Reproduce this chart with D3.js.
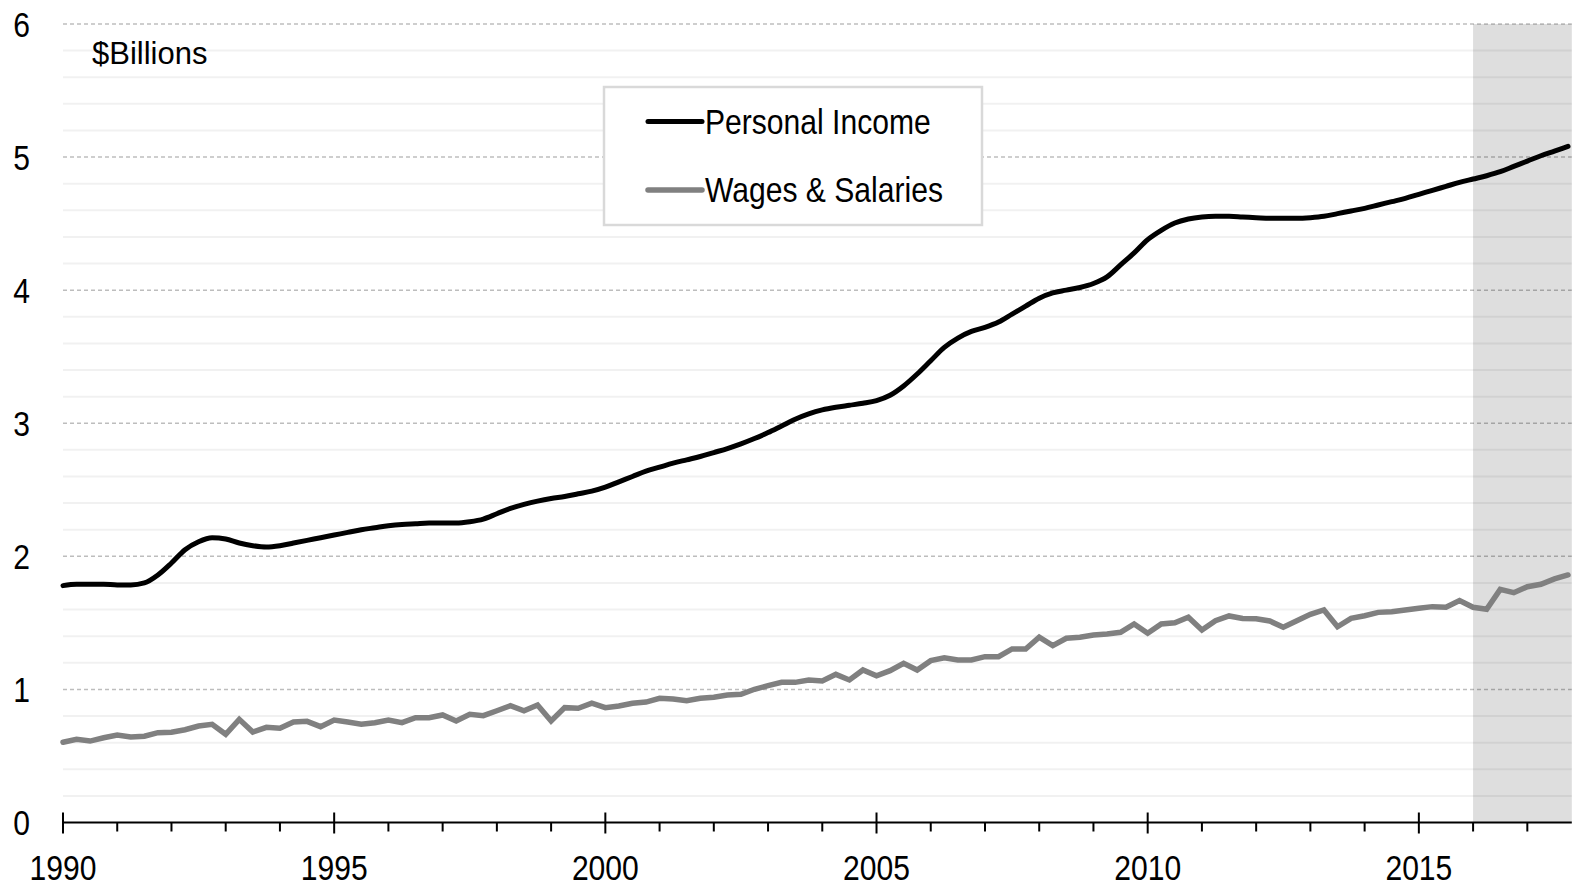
<!DOCTYPE html>
<html>
<head>
<meta charset="utf-8">
<script src="https://cdn.jsdelivr.net/npm/d3@7"></script>
<style>
  body { margin: 0; background: #fff; }
  svg { display: block; font-family: "Liberation Sans", Arial, sans-serif; }
</style>
</head>
<body>
<div id="viz"></div>
<script>
// quarterly values, 1990Q1 .. 2017Q4, $ billions
const personalIncome = [
  1.78, 1.79, 1.79, 1.79,  1.785, 1.785, 1.80, 1.86,
  1.95, 2.05, 2.11, 2.14,  2.13, 2.10, 2.08, 2.07,
  2.08, 2.10, 2.12, 2.14,  2.16, 2.18, 2.20, 2.215,
  2.23, 2.24, 2.245, 2.25,  2.25, 2.25, 2.26, 2.28,
  2.32, 2.36, 2.39, 2.415,  2.435, 2.45, 2.47, 2.49,
  2.52, 2.56, 2.60, 2.64,  2.67, 2.70, 2.725, 2.75,
  2.78, 2.81, 2.845, 2.885,  2.93, 2.98, 3.03, 3.07,
  3.10, 3.12, 3.135, 3.15,  3.17, 3.21, 3.28, 3.37,
  3.47, 3.57, 3.64, 3.69,  3.72, 3.76, 3.82, 3.88,
  3.94, 3.98, 4.00, 4.02,  4.05, 4.10, 4.19, 4.28,
  4.38, 4.45, 4.505, 4.535,  4.55, 4.555, 4.555, 4.55,
  4.545, 4.54, 4.54, 4.54,  4.545, 4.555, 4.575, 4.595,
  4.615, 4.64, 4.665, 4.69,  4.72, 4.75, 4.78, 4.81,
  4.835, 4.86, 4.89, 4.93,  4.97, 5.01, 5.045, 5.08
];
const wagesSalaries = [
  0.603, 0.625, 0.612, 0.637,  0.657, 0.642, 0.648, 0.675,
  0.678, 0.697, 0.725, 0.738,  0.663, 0.775, 0.680, 0.715,
  0.708, 0.755, 0.760, 0.720,  0.770, 0.755, 0.738, 0.750,
  0.770, 0.750, 0.788, 0.788,  0.808, 0.763, 0.813, 0.803,
  0.840, 0.878, 0.840, 0.883,  0.763, 0.863, 0.858, 0.896,
  0.863, 0.875, 0.896, 0.905,  0.933, 0.928, 0.915, 0.933,
  0.941, 0.958, 0.963, 1.001,  1.028, 1.053, 1.053, 1.071,
  1.063, 1.113, 1.071, 1.146,  1.103, 1.141, 1.196, 1.146,
  1.216, 1.237, 1.221, 1.221,  1.246, 1.246, 1.304, 1.304,
  1.392, 1.329, 1.384, 1.392,  1.409, 1.416, 1.429, 1.492,
  1.422, 1.492, 1.501, 1.542,  1.447, 1.516, 1.552, 1.533,
  1.531, 1.514, 1.467, 1.516,  1.564, 1.597, 1.471, 1.534,
  1.554, 1.579, 1.584, 1.597,  1.610, 1.622, 1.617, 1.667,
  1.617, 1.602, 1.752, 1.727,  1.772, 1.790, 1.830, 1.860
];
const startYear = 1990;
const xLabelYears = [1990, 1995, 2000, 2005, 2010, 2015];
const yTickValues = [0, 1, 2, 3, 4, 5, 6];
const forecastStart = 2016;
const seriesNames = ['Personal Income', 'Wages & Salaries'];
const unitLabel = '$Billions';

const width = 1574, height = 887;
const narrow = 0.86;

const x = d3.scaleLinear().domain([1990, 2017.75]).range([63, 1568]);
const y = d3.scaleLinear().domain([0, 6]).range([822.5, 24]);
const xEnd = x(2017.82);
const qYear = i => startYear + i / 4;

const svg = d3.select('#viz').append('svg')
  .attr('width', width).attr('height', height)
  .attr('viewBox', `0 0 ${width} ${height}`);

// forecast shading
svg.append('rect')
  .attr('x', x(forecastStart)).attr('y', y(6))
  .attr('width', xEnd - x(forecastStart)).attr('height', y(0) - y(6))
  .attr('fill', '#dedede');

// minor grid every 0.2
const minor = [];
yTickValues.slice(0, -1).forEach(v => [0.2, 0.4, 0.6, 0.8].forEach(f => minor.push(v + f)));
svg.append('g').selectAll('line').data(minor).join('line')
  .attr('x1', x(1990)).attr('x2', xEnd)
  .attr('y1', d => y(d)).attr('y2', d => y(d))
  .attr('stroke', 'rgba(0,0,0,0.055)').attr('stroke-width', 2);

// major dashed grid
svg.append('g').selectAll('line').data(yTickValues.filter(v => v > 0)).join('line')
  .attr('x1', x(1990)).attr('x2', xEnd)
  .attr('y1', d => y(d)).attr('y2', d => y(d))
  .attr('stroke', 'rgba(0,0,0,0.26)').attr('stroke-width', 1.5)
  .attr('stroke-dasharray', '4,3');

// y labels
svg.append('g').selectAll('text').data(yTickValues).join('text')
  .attr('transform', d => `translate(30,${y(d) + 12.5}) scale(${narrow},1)`)
  .attr('text-anchor', 'end')
  .attr('font-size', 35)
  .attr('fill', '#000')
  .text(d => d);

// x axis
const y0 = y(0);
svg.append('line')
  .attr('x1', x(1990)).attr('x2', xEnd).attr('y1', y0).attr('y2', y0)
  .attr('stroke', '#000').attr('stroke-width', 2);
const years = d3.range(1990, 2018);
svg.append('g').selectAll('line').data(years).join('line')
  .attr('x1', d => x(d)).attr('x2', d => x(d))
  .attr('y1', d => xLabelYears.includes(d) ? y0 - 10 : y0)
  .attr('y2', d => xLabelYears.includes(d) ? y0 + 11 : y0 + 9)
  .attr('stroke', '#000').attr('stroke-width', 2);
svg.append('g').selectAll('text').data(xLabelYears).join('text')
  .attr('transform', d => `translate(${x(d)},880) scale(${narrow},1)`)
  .attr('text-anchor', 'middle')
  .attr('font-size', 35)
  .attr('fill', '#000')
  .text(d => d);

// lines
const wageLine = d3.line().x((d, i) => x(qYear(i))).y(d => y(d));
const incomeLine = d3.line().x((d, i) => x(qYear(i))).y(d => y(d)).curve(d3.curveMonotoneX);

svg.append('path').datum(wagesSalaries)
  .attr('d', wageLine)
  .attr('fill', 'none').attr('stroke', '#808080').attr('stroke-width', 5.5)
  .attr('stroke-linecap', 'round');
svg.append('path').datum(personalIncome)
  .attr('d', incomeLine)
  .attr('fill', 'none').attr('stroke', '#000').attr('stroke-width', 5)
  .attr('stroke-linecap', 'round');

// unit label
svg.append('text')
  .attr('x', 92).attr('y', 64)
  .attr('font-size', 31)
  .text(unitLabel);

// legend
const lg = svg.append('g');
lg.append('rect')
  .attr('x', 604).attr('y', 87).attr('width', 378).attr('height', 138)
  .attr('fill', '#fff').attr('stroke', '#d9d9d9').attr('stroke-width', 2.5);
const legendItems = [
  { name: seriesNames[0], color: '#000', w: 5, cy: 121.5 },
  { name: seriesNames[1], color: '#808080', w: 5.5, cy: 190 }
];
legendItems.forEach(d => {
  lg.append('line')
    .attr('x1', 648).attr('x2', 702).attr('y1', d.cy).attr('y2', d.cy)
    .attr('stroke', d.color).attr('stroke-width', d.w).attr('stroke-linecap', 'round');
  lg.append('text')
    .attr('transform', `translate(705,${d.cy + 12}) scale(${narrow},1)`)
    .attr('font-size', 35)
    .text(d.name);
});
</script>
</body>
</html>
